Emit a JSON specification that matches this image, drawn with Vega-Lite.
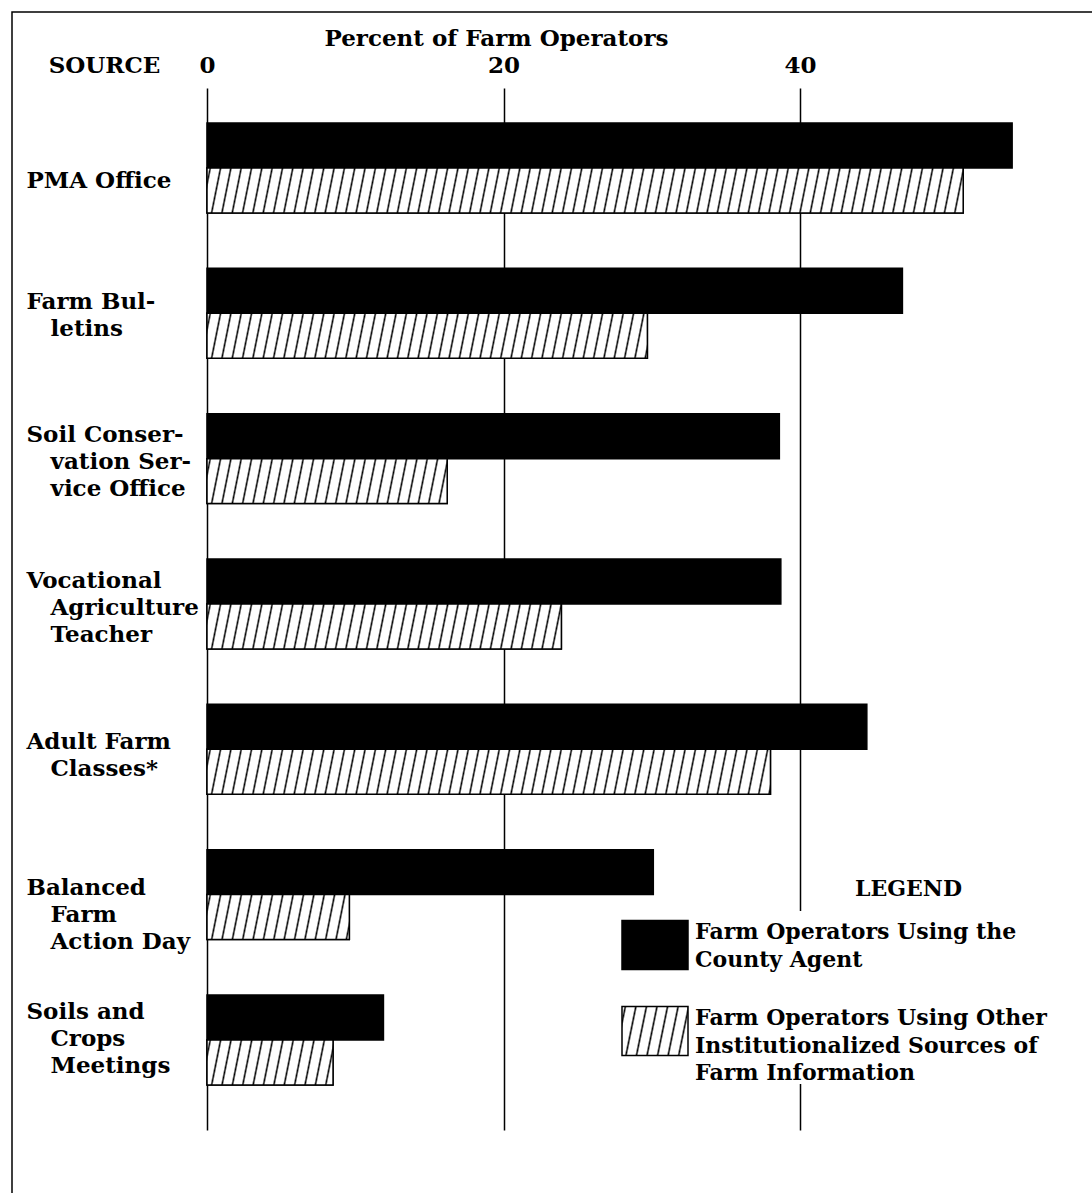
{
  "$schema": "https://vega.github.io/schema/vega-lite/v6.json",
  "width": 1090,
  "height": 1191,
  "autosize": {"type": "none"},
  "padding": {"left": 12, "top": 12, "right": -10, "bottom": -10},
  "background": "white",
  "config": {"view": {"stroke": "black", "strokeWidth": 1.5}, "font": "DejaVu Serif"},
  "title": {"text": "LEGEND", "orient": "top", "anchor": "start", "frame": "group", "offset": 0, "baseline": "alphabetic", "dx": 843, "dy": 906, "font": "DejaVu Serif", "fontSize": 22, "fontWeight": "bold", "color": "black"},
  "params": [
    {"name": "hatch", "value": [
      {"offset":0.002,"color":"#fff"},{"offset":0.0038,"color":"#000"},{"offset":0.0056,"color":"#fff"},
      {"offset":0.014,"color":"#fff"},{"offset":0.0158,"color":"#000"},{"offset":0.0176,"color":"#fff"},
      {"offset":0.026,"color":"#fff"},{"offset":0.0278,"color":"#000"},{"offset":0.0296,"color":"#fff"},
      {"offset":0.038,"color":"#fff"},{"offset":0.0398,"color":"#000"},{"offset":0.0416,"color":"#fff"},
      {"offset":0.05,"color":"#fff"},{"offset":0.0518,"color":"#000"},{"offset":0.0536,"color":"#fff"},
      {"offset":0.062,"color":"#fff"},{"offset":0.0638,"color":"#000"},{"offset":0.0656,"color":"#fff"},
      {"offset":0.074,"color":"#fff"},{"offset":0.0758,"color":"#000"},{"offset":0.0776,"color":"#fff"},
      {"offset":0.086,"color":"#fff"},{"offset":0.0878,"color":"#000"},{"offset":0.0896,"color":"#fff"},
      {"offset":0.098,"color":"#fff"},{"offset":0.0998,"color":"#000"},{"offset":0.1016,"color":"#fff"},
      {"offset":0.11,"color":"#fff"},{"offset":0.1118,"color":"#000"},{"offset":0.1136,"color":"#fff"},
      {"offset":0.122,"color":"#fff"},{"offset":0.1238,"color":"#000"},{"offset":0.1256,"color":"#fff"},
      {"offset":0.134,"color":"#fff"},{"offset":0.1358,"color":"#000"},{"offset":0.1376,"color":"#fff"},
      {"offset":0.146,"color":"#fff"},{"offset":0.1478,"color":"#000"},{"offset":0.1496,"color":"#fff"},
      {"offset":0.158,"color":"#fff"},{"offset":0.1598,"color":"#000"},{"offset":0.1616,"color":"#fff"},
      {"offset":0.17,"color":"#fff"},{"offset":0.1718,"color":"#000"},{"offset":0.1736,"color":"#fff"},
      {"offset":0.182,"color":"#fff"},{"offset":0.1838,"color":"#000"},{"offset":0.1856,"color":"#fff"},
      {"offset":0.194,"color":"#fff"},{"offset":0.1958,"color":"#000"},{"offset":0.1976,"color":"#fff"},
      {"offset":0.206,"color":"#fff"},{"offset":0.2078,"color":"#000"},{"offset":0.2096,"color":"#fff"},
      {"offset":0.218,"color":"#fff"},{"offset":0.2198,"color":"#000"},{"offset":0.2216,"color":"#fff"},
      {"offset":0.23,"color":"#fff"},{"offset":0.2318,"color":"#000"},{"offset":0.2336,"color":"#fff"},
      {"offset":0.242,"color":"#fff"},{"offset":0.2438,"color":"#000"},{"offset":0.2456,"color":"#fff"},
      {"offset":0.254,"color":"#fff"},{"offset":0.2558,"color":"#000"},{"offset":0.2576,"color":"#fff"},
      {"offset":0.266,"color":"#fff"},{"offset":0.2678,"color":"#000"},{"offset":0.2696,"color":"#fff"},
      {"offset":0.278,"color":"#fff"},{"offset":0.2798,"color":"#000"},{"offset":0.2816,"color":"#fff"},
      {"offset":0.29,"color":"#fff"},{"offset":0.2918,"color":"#000"},{"offset":0.2936,"color":"#fff"},
      {"offset":0.302,"color":"#fff"},{"offset":0.3038,"color":"#000"},{"offset":0.3056,"color":"#fff"},
      {"offset":0.314,"color":"#fff"},{"offset":0.3158,"color":"#000"},{"offset":0.3176,"color":"#fff"},
      {"offset":0.326,"color":"#fff"},{"offset":0.3278,"color":"#000"},{"offset":0.3296,"color":"#fff"},
      {"offset":0.338,"color":"#fff"},{"offset":0.3398,"color":"#000"},{"offset":0.3416,"color":"#fff"},
      {"offset":0.35,"color":"#fff"},{"offset":0.3518,"color":"#000"},{"offset":0.3536,"color":"#fff"},
      {"offset":0.362,"color":"#fff"},{"offset":0.3638,"color":"#000"},{"offset":0.3656,"color":"#fff"},
      {"offset":0.374,"color":"#fff"},{"offset":0.3758,"color":"#000"},{"offset":0.3776,"color":"#fff"},
      {"offset":0.386,"color":"#fff"},{"offset":0.3878,"color":"#000"},{"offset":0.3896,"color":"#fff"},
      {"offset":0.398,"color":"#fff"},{"offset":0.3998,"color":"#000"},{"offset":0.4016,"color":"#fff"},
      {"offset":0.41,"color":"#fff"},{"offset":0.4118,"color":"#000"},{"offset":0.4136,"color":"#fff"},
      {"offset":0.422,"color":"#fff"},{"offset":0.4238,"color":"#000"},{"offset":0.4256,"color":"#fff"},
      {"offset":0.434,"color":"#fff"},{"offset":0.4358,"color":"#000"},{"offset":0.4376,"color":"#fff"},
      {"offset":0.446,"color":"#fff"},{"offset":0.4478,"color":"#000"},{"offset":0.4496,"color":"#fff"},
      {"offset":0.458,"color":"#fff"},{"offset":0.4598,"color":"#000"},{"offset":0.4616,"color":"#fff"},
      {"offset":0.47,"color":"#fff"},{"offset":0.4718,"color":"#000"},{"offset":0.4736,"color":"#fff"},
      {"offset":0.482,"color":"#fff"},{"offset":0.4838,"color":"#000"},{"offset":0.4856,"color":"#fff"},
      {"offset":0.494,"color":"#fff"},{"offset":0.4958,"color":"#000"},{"offset":0.4976,"color":"#fff"},
      {"offset":0.506,"color":"#fff"},{"offset":0.5078,"color":"#000"},{"offset":0.5096,"color":"#fff"},
      {"offset":0.518,"color":"#fff"},{"offset":0.5198,"color":"#000"},{"offset":0.5216,"color":"#fff"},
      {"offset":0.53,"color":"#fff"},{"offset":0.5318,"color":"#000"},{"offset":0.5336,"color":"#fff"},
      {"offset":0.542,"color":"#fff"},{"offset":0.5438,"color":"#000"},{"offset":0.5456,"color":"#fff"},
      {"offset":0.554,"color":"#fff"},{"offset":0.5558,"color":"#000"},{"offset":0.5576,"color":"#fff"},
      {"offset":0.566,"color":"#fff"},{"offset":0.5678,"color":"#000"},{"offset":0.5696,"color":"#fff"},
      {"offset":0.578,"color":"#fff"},{"offset":0.5798,"color":"#000"},{"offset":0.5816,"color":"#fff"},
      {"offset":0.59,"color":"#fff"},{"offset":0.5918,"color":"#000"},{"offset":0.5936,"color":"#fff"},
      {"offset":0.602,"color":"#fff"},{"offset":0.6038,"color":"#000"},{"offset":0.6056,"color":"#fff"},
      {"offset":0.614,"color":"#fff"},{"offset":0.6158,"color":"#000"},{"offset":0.6176,"color":"#fff"},
      {"offset":0.626,"color":"#fff"},{"offset":0.6278,"color":"#000"},{"offset":0.6296,"color":"#fff"},
      {"offset":0.638,"color":"#fff"},{"offset":0.6398,"color":"#000"},{"offset":0.6416,"color":"#fff"},
      {"offset":0.65,"color":"#fff"},{"offset":0.6518,"color":"#000"},{"offset":0.6536,"color":"#fff"},
      {"offset":0.662,"color":"#fff"},{"offset":0.6638,"color":"#000"},{"offset":0.6656,"color":"#fff"},
      {"offset":0.674,"color":"#fff"},{"offset":0.6758,"color":"#000"},{"offset":0.6776,"color":"#fff"},
      {"offset":0.686,"color":"#fff"},{"offset":0.6878,"color":"#000"},{"offset":0.6896,"color":"#fff"},
      {"offset":0.698,"color":"#fff"},{"offset":0.6998,"color":"#000"},{"offset":0.7016,"color":"#fff"},
      {"offset":0.71,"color":"#fff"},{"offset":0.7118,"color":"#000"},{"offset":0.7136,"color":"#fff"},
      {"offset":0.722,"color":"#fff"},{"offset":0.7238,"color":"#000"},{"offset":0.7256,"color":"#fff"},
      {"offset":0.734,"color":"#fff"},{"offset":0.7358,"color":"#000"},{"offset":0.7376,"color":"#fff"},
      {"offset":0.746,"color":"#fff"},{"offset":0.7478,"color":"#000"},{"offset":0.7496,"color":"#fff"},
      {"offset":0.758,"color":"#fff"},{"offset":0.7598,"color":"#000"},{"offset":0.7616,"color":"#fff"},
      {"offset":0.77,"color":"#fff"},{"offset":0.7718,"color":"#000"},{"offset":0.7736,"color":"#fff"},
      {"offset":0.782,"color":"#fff"},{"offset":0.7838,"color":"#000"},{"offset":0.7856,"color":"#fff"},
      {"offset":0.794,"color":"#fff"},{"offset":0.7958,"color":"#000"},{"offset":0.7976,"color":"#fff"},
      {"offset":0.806,"color":"#fff"},{"offset":0.8078,"color":"#000"},{"offset":0.8096,"color":"#fff"},
      {"offset":0.818,"color":"#fff"},{"offset":0.8198,"color":"#000"},{"offset":0.8216,"color":"#fff"},
      {"offset":0.83,"color":"#fff"},{"offset":0.8318,"color":"#000"},{"offset":0.8336,"color":"#fff"},
      {"offset":0.842,"color":"#fff"},{"offset":0.8438,"color":"#000"},{"offset":0.8456,"color":"#fff"},
      {"offset":0.854,"color":"#fff"},{"offset":0.8558,"color":"#000"},{"offset":0.8576,"color":"#fff"},
      {"offset":0.866,"color":"#fff"},{"offset":0.8678,"color":"#000"},{"offset":0.8696,"color":"#fff"},
      {"offset":0.878,"color":"#fff"},{"offset":0.8798,"color":"#000"},{"offset":0.8816,"color":"#fff"},
      {"offset":0.89,"color":"#fff"},{"offset":0.8918,"color":"#000"},{"offset":0.8936,"color":"#fff"}
    ]}
  ],
  "data": {"values": [
    {"source": "PMA Office", "series": "Farm Operators Using the County Agent", "pct": 54.3},
    {"source": "PMA Office", "series": "Farm Operators Using Other Institutionalized Sources of Farm Information", "pct": 51.0},
    {"source": "Farm Bulletins", "series": "Farm Operators Using the County Agent", "pct": 46.9},
    {"source": "Farm Bulletins", "series": "Farm Operators Using Other Institutionalized Sources of Farm Information", "pct": 29.7},
    {"source": "Soil Conservation Service Office", "series": "Farm Operators Using the County Agent", "pct": 38.6},
    {"source": "Soil Conservation Service Office", "series": "Farm Operators Using Other Institutionalized Sources of Farm Information", "pct": 16.2},
    {"source": "Vocational Agriculture Teacher", "series": "Farm Operators Using the County Agent", "pct": 38.7},
    {"source": "Vocational Agriculture Teacher", "series": "Farm Operators Using Other Institutionalized Sources of Farm Information", "pct": 23.9},
    {"source": "Adult Farm Classes*", "series": "Farm Operators Using the County Agent", "pct": 44.5},
    {"source": "Adult Farm Classes*", "series": "Farm Operators Using Other Institutionalized Sources of Farm Information", "pct": 38.0},
    {"source": "Balanced Farm Action Day", "series": "Farm Operators Using the County Agent", "pct": 30.1},
    {"source": "Balanced Farm Action Day", "series": "Farm Operators Using Other Institutionalized Sources of Farm Information", "pct": 9.6},
    {"source": "Soils and Crops Meetings", "series": "Farm Operators Using the County Agent", "pct": 11.9},
    {"source": "Soils and Crops Meetings", "series": "Farm Operators Using Other Institutionalized Sources of Farm Information", "pct": 8.5}
  ]},
  "encoding": {
    "y": {
      "field": "source", "type": "nominal",
      "sort": ["PMA Office", "Farm Bulletins", "Soil Conservation Service Office", "Vocational Agriculture Teacher", "Adult Farm Classes*", "Balanced Farm Action Day", "Soils and Crops Meetings"],
      "scale": {
        "domain": ["PMA Office", "Farm Bulletins", "Soil Conservation Service Office", "Vocational Agriculture Teacher", "Adult Farm Classes*", "Balanced Farm Action Day", "Soils and Crops Meetings"],
        "range": [76, 1118], "paddingInner": 0.381, "paddingOuter": 0.2755, "align": 0.437
      },
      "axis": {
        "title": "SOURCE", "titleAngle": 0, "titleX": 92, "titleY": 60, "titleAlign": "center", "titleBaseline": "alphabetic",
        "titleFont": "DejaVu Serif", "titleFontWeight": "bold", "titleFontSize": 23, "titleColor": "black",
        "domain": false, "ticks": false, "tickSize": 0, "grid": false,
        "labelPadding": -14, "labelAlign": "left", "labelBaseline": "middle",
        "labelFont": "DejaVu Serif", "labelFontWeight": "bold", "labelFontSize": 23, "labelColor": "black",
        "labelLineHeight": 27, "labelLimit": 0, "labelOverlap": false,
        "labelOffset": {"condition": [
          {"test": "datum.value === 'PMA Office'", "value": 13.5},
          {"test": "datum.value === 'Farm Bulletins'", "value": -11},
          {"test": "datum.value === 'Soil Conservation Service Office'", "value": -24},
          {"test": "datum.value === 'Vocational Agriculture Teacher'", "value": -23},
          {"test": "datum.value === 'Adult Farm Classes*'", "value": -7},
          {"test": "datum.value === 'Balanced Farm Action Day'", "value": -7},
          {"test": "datum.value === 'Soils and Crops Meetings'", "value": -27.5}
        ], "value": 0},
        "labelExpr": "datum.value === 'Farm Bulletins' ? ['Farm Bul-', '\u200b\u00a0\u00a0\u00a0letins'] : datum.value === 'Soil Conservation Service Office' ? ['Soil Conser-', '\u200b\u00a0\u00a0\u00a0vation Ser-', '\u200b\u00a0\u00a0\u00a0vice Office'] : datum.value === 'Vocational Agriculture Teacher' ? ['Vocational', '\u200b\u00a0\u00a0\u00a0Agriculture', '\u200b\u00a0\u00a0\u00a0Teacher'] : datum.value === 'Adult Farm Classes*' ? ['Adult Farm', '\u200b\u00a0\u00a0\u00a0Classes*'] : datum.value === 'Balanced Farm Action Day' ? ['Balanced', '\u200b\u00a0\u00a0\u00a0Farm', '\u200b\u00a0\u00a0\u00a0Action Day'] : datum.value === 'Soils and Crops Meetings' ? ['Soils and', '\u200b\u00a0\u00a0\u00a0Crops', '\u200b\u00a0\u00a0\u00a0Meetings'] : datum.value"
      }
    },
    "yOffset": {
      "field": "series", "type": "nominal",
      "scale": {"domain": ["Farm Operators Using the County Agent", "Farm Operators Using Other Institutionalized Sources of Farm Information"]}
    },
    "x": {
      "field": "pct", "type": "quantitative",
      "scale": {"domain": [0, 58], "range": [195, 1055], "nice": false},
      "axis": {
        "orient": "top", "values": [0, 20, 40],
        "title": "Percent of Farm Operators", "titleX": 484, "titleY": 33, "titleAlign": "center", "titleBaseline": "alphabetic",
        "titleFont": "DejaVu Serif", "titleFontWeight": "bold", "titleFontSize": 23, "titleColor": "black",
        "domain": false, "ticks": false, "tickSize": 0,
        "labelPadding": -60, "labelBaseline": "alphabetic", "labelFlush": false,
        "labelFont": "DejaVu Serif", "labelFontWeight": "bold", "labelFontSize": 23, "labelColor": "black",
        "grid": true, "gridColor": "black", "gridWidth": 1.5, "gridOpacity": 1
      }
    }
  },
  "layer": [
    {
      "mark": {"type": "bar", "stroke": "black", "strokeWidth": 1.5},
      "encoding": {
        "fill": {
          "field": "series", "type": "nominal",
          "scale": {
            "domain": ["Farm Operators Using the County Agent", "Farm Operators Using Other Institutionalized Sources of Farm Information"],
            "range": ["black", {"expr": "{gradient: 'linear', x1: 0, y1: 0, x2: 13.03, y2: 1.97, stops: hatch}"}]
          },
          "legend": {
            "orient": "none", "legendX": 609, "legendY": 899, "padding": 0, "fillColor": "white",
            "title": null,
            "symbolType": "M-1,-0.74H1V0.74H-1Z", "symbolSize": 4356, "symbolStrokeWidth": 1.5, "symbolStrokeColor": "black", "symbolOpacity": 1,
            "labelFont": "DejaVu Serif", "labelFontSize": 22, "labelFontWeight": "bold", "labelColor": "black",
            "labelLimit": 0, "labelOffset": 6, "rowPadding": 24,
            "labelExpr": "indexof(datum.value, 'Other') >= 0 ? ['Farm Operators Using Other', 'Institutionalized Sources of', 'Farm Information'] : ['Farm Operators Using the', 'County Agent']",
            "encode": {
              "labels": {"update": {
                "lineHeight": {"value": 27.5},
                "dy": {"condition": {"test": "indexof(datum.value, 'Other') >= 0", "value": -29.5}, "value": -13}
              }}
            }
          }
        }
      }
    },
    {
      "transform": [{"filter": "indexof(datum.series, 'Other') >= 0"}],
      "mark": {
        "type": "bar", "stroke": "black", "strokeWidth": 1.5,
        "fill": {"expr": "{gradient: 'linear', x1: 0, y1: 0, x2: 58 / datum.pct, y2: 9 * pow(58 / datum.pct, 2) / 860, stops: hatch}"}
      }
    }
  ]
}
